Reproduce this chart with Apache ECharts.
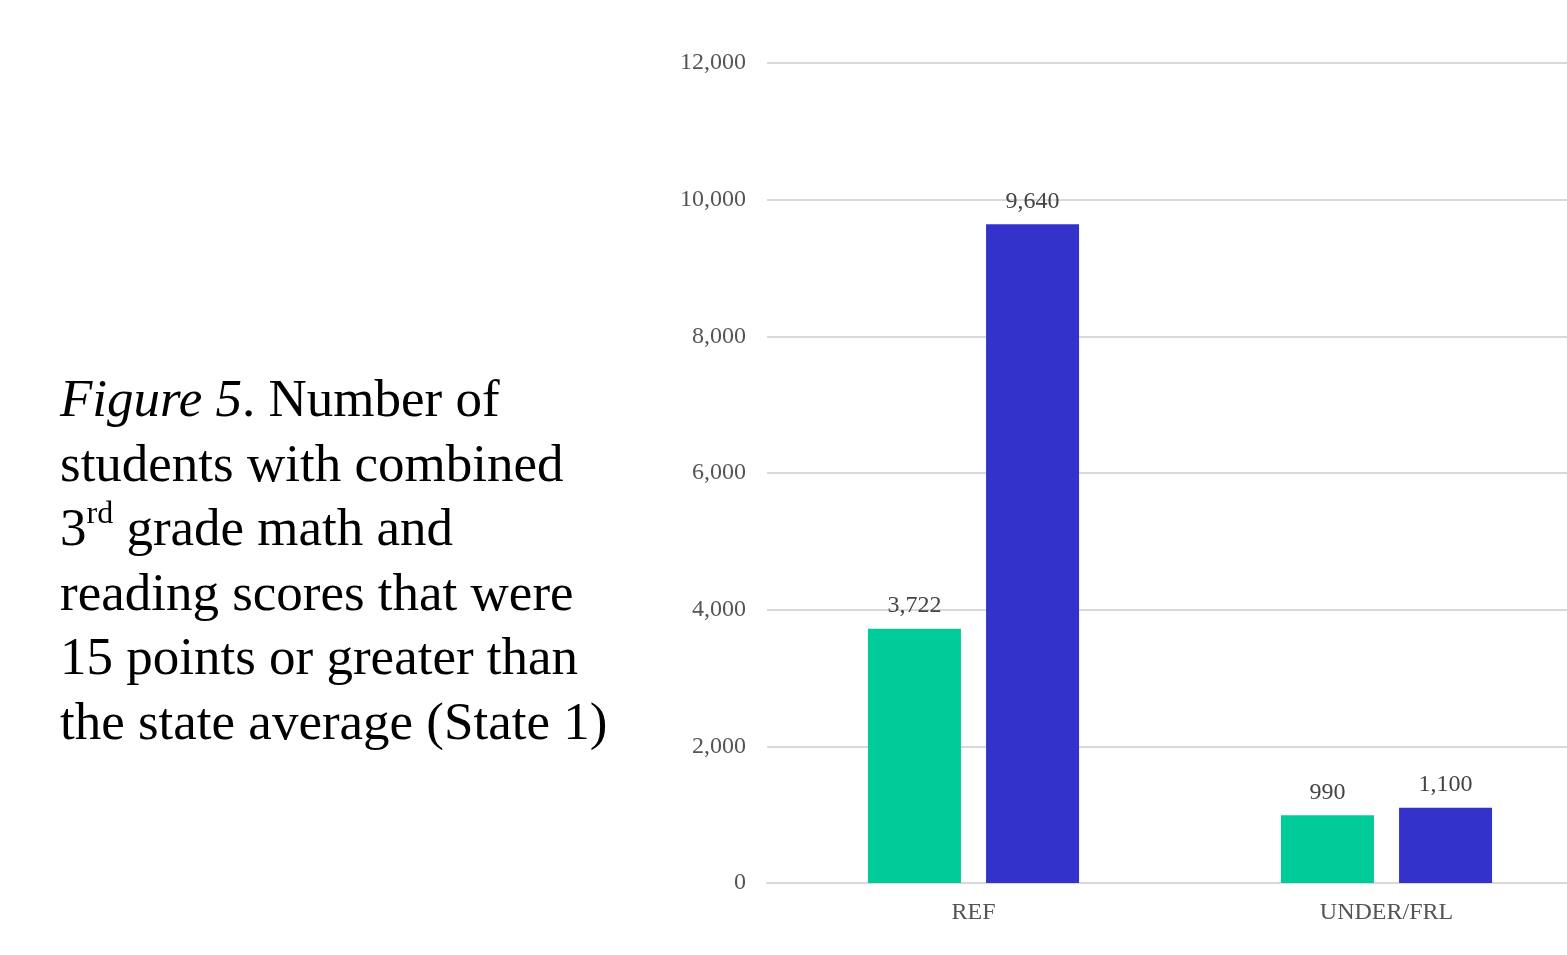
<!DOCTYPE html>
<html>
<head>
<meta charset="utf-8">
<script src="https://cdn.jsdelivr.net/npm/echarts@6/dist/echarts.min.js"></script>
<style>
  html, body { margin: 0; padding: 0; background: #fff; }
  #main { width: 1567px; height: 955px; }
</style>
</head>
<body>
<div id="main"></div>
<script>
'use strict';

var categories = ['REF', 'UNDER/FRL'];
var seriesGreen = [3722, 990];
var seriesBlue = [9640, 1100];
var yTicks = [0, 2000, 4000, 6000, 8000, 10000, 12000];

var serif = '"Liberation Serif", "DejaVu Serif", serif';

function fmt(v) {
	return v.toString().replace(/\B(?=(\d{3})+(?!\d))/g, ',');
}

var chart = echarts.init(document.getElementById('main'));

var labelOpt = {
	show: true,
	position: 'top',
	distance: 11,
	color: '#444',
	fontFamily: serif,
	fontSize: 24,
	formatter: function (p) { return fmt(p.value); }
};

var option = {
	animation: false,
	backgroundColor: '#fff',
	title: {
		left: 60,
		top: 370,
		padding: 0,
		text: '{i|Figure 5}{n|. Number of}\n{n|students with combined}\n{n|3}{s|rd}{n| grade math and}\n{n|reading scores that were}\n{n|15 points or greater than}\n{n|the state average (State 1)}',
		textStyle: {
			fontFamily: serif,
			fontSize: 53,
			fontWeight: 'normal',
			lineHeight: 64.5,
			color: '#000',
			rich: {
				i: { fontFamily: serif, fontSize: 53, fontWeight: 'normal', fontStyle: 'italic', color: '#000', lineHeight: 64.5 },
				n: { fontFamily: serif, fontSize: 53, fontWeight: 'normal', color: '#000', lineHeight: 64.5 },
				s: { fontFamily: serif, fontSize: 32, fontWeight: 'normal', color: '#000', lineHeight: 64.5, verticalAlign: 'top', padding: [0, 0, 20, 0] }
			}
		}
	},
	grid: {
		left: 767,
		top: 63,
		width: 826,
		bottom: 72,
		outerBoundsMode: 'none',
		containLabel: false
	},
	xAxis: {
		type: 'category',
		data: categories,
		axisLine: { lineStyle: { color: '#d9d9d9', width: 2 } },
		axisTick: { show: false },
		axisLabel: { color: '#555', fontFamily: serif, fontSize: 24, margin: 18 }
	},
	yAxis: {
		type: 'value',
		min: yTicks[0],
		max: yTicks[yTicks.length - 1],
		interval: 2000,
		axisLine: { show: false },
		axisTick: { show: false },
		splitLine: { lineStyle: { color: '#d9d9d9', width: 2 } },
		axisLabel: { color: '#555', fontFamily: serif, fontSize: 24, margin: 21, formatter: fmt }
	},
	series: [{
		type: 'bar',
		data: seriesGreen,
		barWidth: 93,
		barGap: '27%',
		itemStyle: { color: '#00CC99' },
		label: labelOpt
	}, {
		type: 'bar',
		data: seriesBlue,
		barWidth: 93,
		barGap: '27%',
		itemStyle: { color: '#3333CC' },
		label: labelOpt
	}]
};

chart.setOption(option);
</script>
</body>
</html>
